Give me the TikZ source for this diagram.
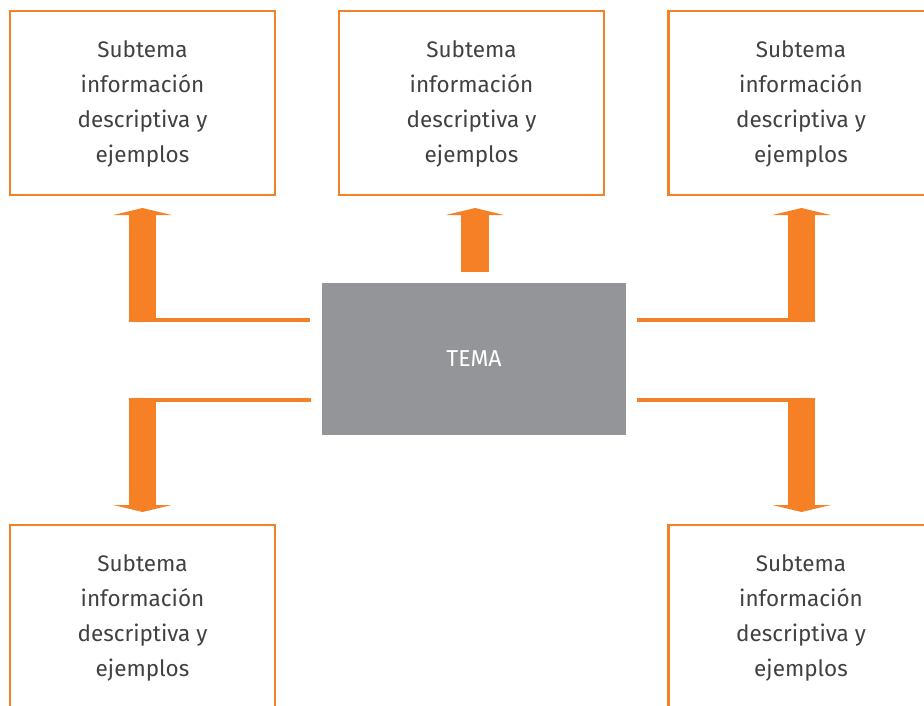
\documentclass[tikz,border=0pt]{standalone}
\usepackage{fontspec}
\setmainfont{Fira Sans}
\usetikzlibrary{arrows.meta}
\definecolor{orng}{RGB}{245,128,37}
\definecolor{temagray}{RGB}{147,149,152}
\definecolor{txtgray}{RGB}{65,65,67}
\newcommand{\subtxt}{\raisebox{-5pt}{\begin{tabular}{@{}c@{}}Subtema\\información\\descriptiva y\\ejemplos\end{tabular}}}
\tikzset{
  subbox/.style={draw=orng, line width=2.6pt, minimum width=265pt, minimum height=184pt,
    inner sep=0pt, text=txtgray,
    font=\fontsize{22.5}{35}\selectfont},
  temabox/.style={fill=temagray, minimum width=304pt, minimum height=152pt, inner sep=0pt,
    text=white, font=\fontsize{23}{28}\selectfont},
  thinline/.style={draw=orng, line width=4pt},
  bigarrow/.style={draw=orng, line width=27pt, -{Triangle[length=7pt,width=58pt]}},
}
\begin{document}
\begin{tikzpicture}[x=1pt,y=-1pt]
\useasboundingbox (0,0) rectangle (924,705);
\clip (0,0) rectangle (924,705);
\node[temabox] (tema) at (474,359) {\raisebox{-4pt}{TEMA}};
\node[subbox] (tl) at (142.5,103) {\subtxt};
\node[subbox] (tm) at (471.5,103) {\subtxt};
\node[subbox] (tr) at (801,103) {\subtxt};
\node[subbox] (bl) at (142.5,617) {\subtxt};
\node[subbox] (br) at (801,617) {\subtxt};
% corner coordinates
\coordinate (tlS) at (310,320);
\coordinate (tlC) at (129,320);
\coordinate (tlB) at (142.5,322);
\coordinate (tlT) at (142.5,208);
\coordinate (trS) at (637,320);
\coordinate (trC) at (815,320);
\coordinate (trB) at (801.5,322);
\coordinate (trT) at (801.5,208);
\coordinate (blS) at (311,400);
\coordinate (blC) at (129,400);
\coordinate (blB) at (142.5,398);
\coordinate (blT) at (142.5,512);
\coordinate (brS) at (637,400);
\coordinate (brC) at (815,400);
\coordinate (brB) at (801.5,398);
\coordinate (brT) at (801.5,512);
\coordinate (tmB) at (475,272);
\coordinate (tmT) at (475,208);
\draw[thinline] (tlS) -- (tlC);
\draw[bigarrow] (tlB) -- (tlT);
\draw[thinline] (trS) -- (trC);
\draw[bigarrow] (trB) -- (trT);
\draw[thinline] (blS) -- (blC);
\draw[bigarrow] (blB) -- (blT);
\draw[thinline] (brS) -- (brC);
\draw[bigarrow] (brB) -- (brT);
\draw[bigarrow, line width=28pt] (tmB) -- (tmT);
\end{tikzpicture}
\end{document}
